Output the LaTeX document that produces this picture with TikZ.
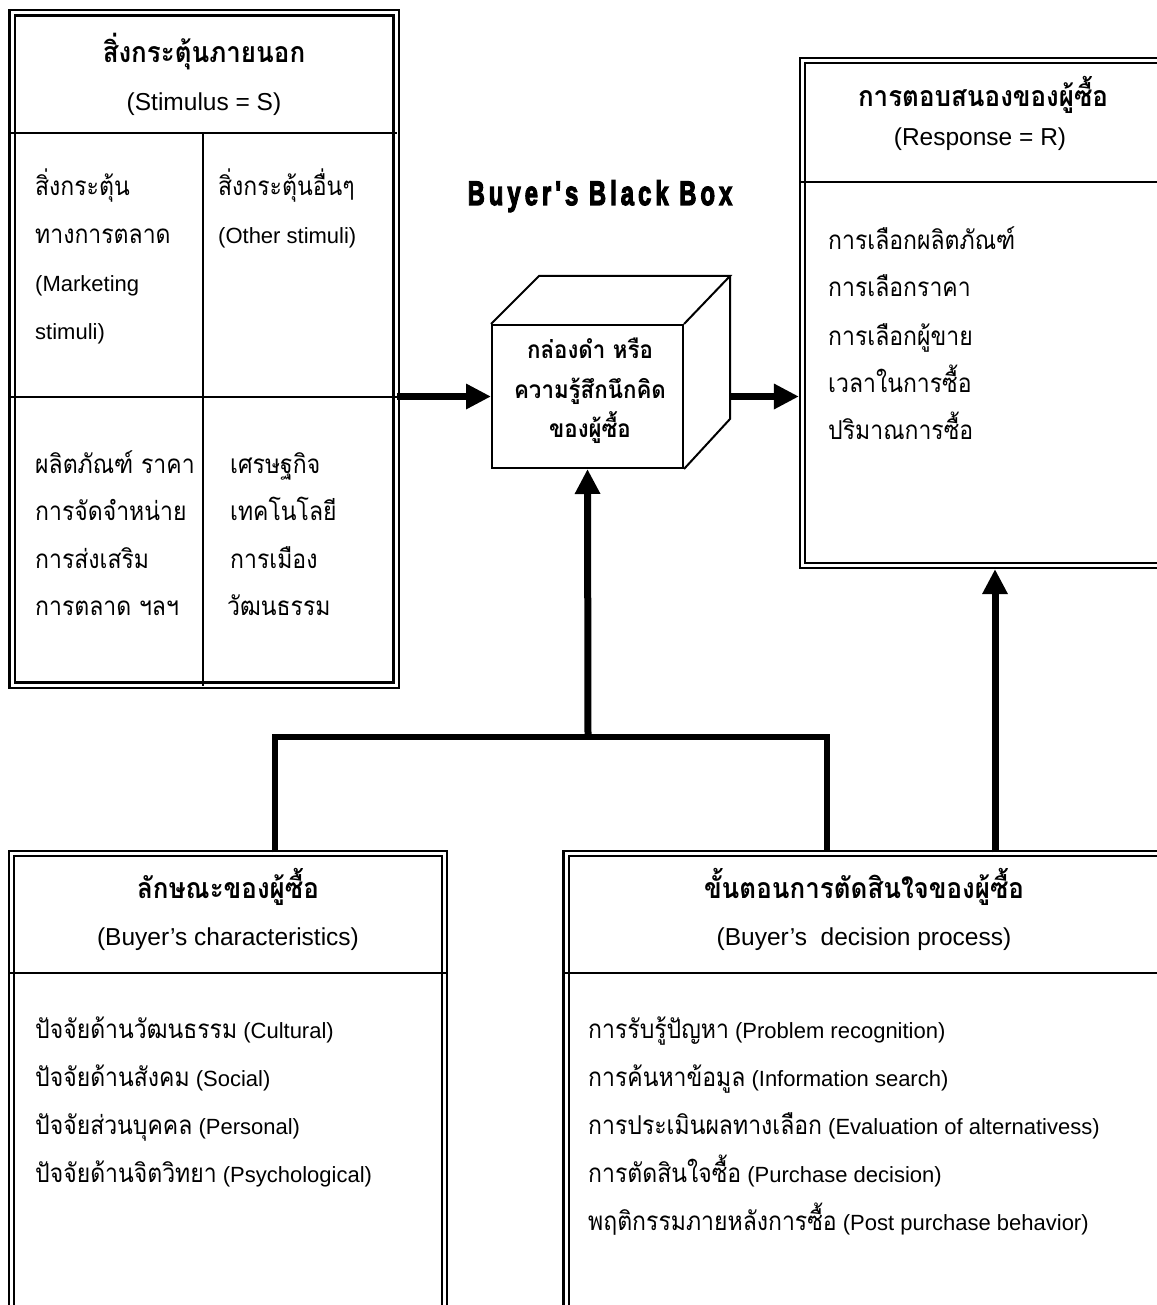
\documentclass[tikz,border=0pt]{standalone}
\usepackage{fontspec}
\usepackage{graphicx}
\setmainfont{Liberation Sans}
\newfontfamily\thaiA[Script=Thai,FakeStretch=0.885]{Loma}
\newfontfamily\thaiB[Script=Thai,FakeStretch=0.91]{Loma}
\newfontfamily\bbfont{Liberation Sans Bold}[LetterSpace=17,FakeBold=4]
\newcommand\tht[1]{{\thaiA\fontsize{26}{30}\selectfont #1}}
\newcommand\ttl[1]{{\thaiB\bfseries\fontsize{28.5}{32}\selectfont #1}}
\newcommand\cbt[1]{{\thaiB\bfseries\fontsize{24.5}{28}\selectfont #1}}
\usetikzlibrary{arrows.meta,calc}
\begin{document}
\begin{tikzpicture}[x=1pt,y=-1pt,
  dbox/.style={draw, line width=2.2pt, double=white, double distance=3pt, inner sep=0pt},
  sep/.style={line width=1.6pt},
  cubeline/.style={line width=2pt},
  txt/.style={anchor=base west, inner sep=0pt, font=\fontsize{22}{27}\selectfont},
  ctr/.style={anchor=base, inner sep=0pt, font=\fontsize{24.5}{29}\selectfont},
  conn/.style={line width=6.5pt},
  arr/.style={line width=7pt, -{Triangle[length=25pt,width=24pt]}},
]
\useasboundingbox (0,0) rectangle (1156,1305);

% boxes
\node[dbox, minimum width=384pt, minimum height=672pt] (stim) at (204,349) {};
\node[dbox, minimum width=359.5pt, minimum height=505pt] (resp) at (982.25,313) {};
\node[dbox, minimum width=433pt, minimum height=476.5pt] (bchar) at (228,1091.75) {};
\node[dbox, minimum width=596pt, minimum height=476.5pt] (bdec) at (864,1091.75) {};

% separators
\draw[sep] (stim.west |- 0,133) -- (stim.east |- 0,133);
\draw[sep] (stim.west |- 0,397) -- (stim.east |- 0,397);
\draw[sep] (203,133) -- (203,686);
\draw[sep] (resp.west |- 0,182) -- (resp.east |- 0,182);
\draw[sep] (bchar.west |- 0,973) -- (bchar.east |- 0,973);
\draw[sep] (bdec.west |- 0,973) -- (bdec.east |- 0,973);

% cube
\node[draw, cubeline, fill=white, minimum width=191pt, minimum height=143pt, inner sep=0pt] (cube) at (587.5,396.5) {};
\draw[cubeline] (cube.north west) -- ++(48,-48) coordinate (tl) -- ++(191,0) coordinate (tr) -- (cube.north east);
\draw[cubeline] (tr) -- ++(0,143) coordinate (br) -- (cube.south east);

% stimulus texts
\node[ctr] (st1) at (204,63) {\ttl{สิ่งกระตุ้นภายนอก}};
\node[ctr] (st2) at (204,111) {(Stimulus = S)};
\node[txt] (sa1) at (35,196) {\tht{สิ่งกระตุ้น}};
\node[txt] (sa2) at (35,244) {\tht{ทางการตลาด}};
\node[txt] (sa3) at (35,291) {(Marketing};
\node[txt] (sa4) at (35,339) {stimuli)};
\node[txt] (sb1) at (218,196) {\tht{สิ่งกระตุ้นอื่นๆ}};
\node[txt] (sb2) at (218,244) {(Other stimuli)};
\node[txt] (sc1) at (35,473) {\tht{ผลิตภัณฑ์ ราคา}};
\node[txt] (sc2) at (35,520) {\tht{การจัดจำหน่าย}};
\node[txt] (sc3) at (35,568) {\tht{การส่งเสริม}};
\node[txt] (sc4) at (35,615) {\tht{การตลาด ฯลฯ}};
\node[txt] (sd1) at (230,473) {\tht{เศรษฐกิจ}};
\node[txt] (sd2) at (230,520) {\tht{เทคโนโลยี}};
\node[txt] (sd3) at (230,568) {\tht{การเมือง}};
\node[txt] (sd4) at (227,615) {\tht{วัฒนธรรม}};

% black box title
\node[anchor=base, inner sep=0pt] (bbt) at (600,205) {\scalebox{0.7}[1]{\fontsize{34}{38}\bbfont Buyer{\char"27}s Black Box}};

% cube texts
\node[ctr] (cb1) at (590,358) {\cbt{กล่องดำ หรือ}};
\node[ctr] (cb2) at (590,398) {\cbt{ความรู้สึกนึกคิด}};
\node[ctr] (cb3) at (590,437) {\cbt{ของผู้ซื้อ}};

% response texts
\node[ctr] (r1) at (983,107) {\ttl{การตอบสนองของผู้ซื้อ}};
\node[ctr] (r2) at (980,146) {(Response = R)};
\node[txt] (ri1) at (828,250) {\tht{การเลือกผลิตภัณฑ์}};
\node[txt] (ri2) at (828,297) {\tht{การเลือกราคา}};
\node[txt] (ri3) at (828,345) {\tht{การเลือกผู้ขาย}};
\node[txt] (ri4) at (828,392) {\tht{เวลาในการซื้อ}};
\node[txt] (ri5) at (828,439) {\tht{ปริมาณการซื้อ}};

% buyer characteristics
\node[ctr] (c1) at (228,898) {\ttl{ลักษณะของผู้ซื้อ}};
\node[ctr] (c2) at (228,945) {(Buyer’s characteristics)};
\node[txt] (ci1) at (35,1038) {\tht{ปัจจัยด้านวัฒนธรรม} (Cultural)};
\node[txt] (ci2) at (35,1086) {\tht{ปัจจัยด้านสังคม} (Social)};
\node[txt] (ci3) at (35,1134) {\tht{ปัจจัยส่วนบุคคล} (Personal)};
\node[txt] (ci4) at (35,1182) {\tht{ปัจจัยด้านจิตวิทยา} (Psychological)};

% decision process
\node[ctr] (d1) at (864,898) {\ttl{ขั้นตอนการตัดสินใจของผู้ซื้อ}};
\node[ctr] (d2) at (864,945) {(Buyer’s\ \ decision process)};
\node[txt] (di1) at (588,1038) {\tht{การรับรู้ปัญหา} (Problem recognition)};
\node[txt] (di2) at (588,1086) {\tht{การค้นหาข้อมูล} (Information search)};
\node[txt] (di3) at (588,1134) {\tht{การประเมินผลทางเลือก} (Evaluation of alternativess)};
\node[txt] (di4) at (588,1182) {\tht{การตัดสินใจซื้อ} (Purchase decision)};
\node[txt] (di5) at (588,1230) {\tht{พฤติกรรมภายหลังการซื้อ} (Post purchase behavior)};

% connectors
\coordinate (jl) at (275,737);
\coordinate (jr) at (827,737);
\coordinate (jm) at (588,737);
\coordinate (rx) at (995,0);
\draw[conn] (bchar.north -| jl) -- (jl) -- (jr) -- (bdec.north -| jr);
\draw[arr] (jm) -- (cube.south);
\draw[arr, shorten >=2.5pt] (bdec.north -| rx) -- (resp.south -| rx);
\draw[arr] (stim.east |- cube.west) -- (cube.west);
\draw[arr, shorten >=2.5pt] (tr |- cube.east) -- (resp.west |- cube.east);
\end{tikzpicture}
\end{document}
